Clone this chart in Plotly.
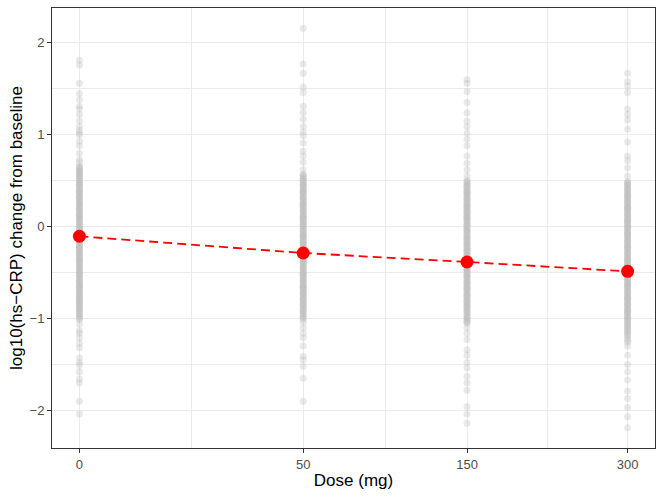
import numpy as np
import plotly.graph_objects as go

doses = [0, 50, 150, 300]
dose_labels = ["0", "50", "150", "300"]

# individual log10(hs-CRP) changes (per dose)
y_dose0 = [1.81, 1.76, 1.56, 1.45, 1.38, 1.31, 1.28, 1.22, 1.15, 1.09, 1.05, 1.02, 1.00, 0.93, 0.88, 0.80, 0.73, 0.70,
           0.66, 0.64, 0.61, 0.60, 0.58, 0.55, 0.54, 0.52, 0.49, 0.48, 0.46, 0.44, 0.41, 0.40, 0.38, 0.36, 0.33, 0.32,
           0.30, 0.27, 0.26, 0.24, 0.22, 0.19, 0.18, 0.16, 0.13, 0.12, 0.10, 0.08, 0.05, 0.04, 0.02, -0.01, -0.02,
           -0.04, -0.07, -0.08, -0.10, -0.12, -0.15, -0.16, -0.18, -0.21, -0.22, -0.24, -0.26, -0.29, -0.30, -0.32,
           -0.35, -0.36, -0.38, -0.40, -0.43, -0.44, -0.46, -0.49, -0.50, -0.52, -0.54, -0.57, -0.58, -0.60, -0.63,
           -0.64, -0.66, -0.68, -0.71, -0.72, -0.74, -0.77, -0.78, -0.80, -0.83, -0.84, -0.86, -0.89, -0.91, -0.93,
           -0.96, -0.98, -1.01, -1.06, -1.13, -1.16, -1.21, -1.27, -1.32, -1.43, -1.48, -1.51, -1.58, -1.66, -1.70,
           -1.90, -2.04,
           0.65, 0.62, 0.59, 0.565, 0.535, 0.50, 0.47, 0.45, 0.42, 0.39, 0.37, 0.34, 0.31, 0.285, 0.25, 0.23, 0.20,
           0.17, 0.14, 0.11, 0.09, 0.06, 0.03, 0.00, -0.03, -0.06, -0.09, -0.11, -0.14, -0.17, -0.20, -0.23, -0.25,
           -0.28, -0.31, -0.34, -0.37, -0.39, -0.42, -0.45, -0.48, -0.51, -0.53, -0.56, -0.59, -0.62, -0.65, -0.67,
           -0.70, -0.73, -0.76, -0.79, -0.82, -0.85, -0.88, -0.90, -0.94, -0.97, -1.00]
y_dose50 = [2.16, 1.77, 1.67, 1.52, 1.46, 1.31, 1.24, 1.17, 1.09, 1.03, 0.99, 0.91, 0.82, 0.77, 0.70, 0.62,
            0.57, 0.55, 0.52, 0.51, 0.49, 0.46, 0.45, 0.43, 0.40, 0.39, 0.37, 0.35, 0.32, 0.31, 0.29, 0.26, 0.25,
            0.23, 0.21, 0.18, 0.17, 0.15, 0.12, 0.11, 0.09, 0.07, 0.04, 0.03, 0.01, -0.02, -0.03, -0.05, -0.08,
            -0.09, -0.11, -0.13, -0.16, -0.17, -0.19, -0.22, -0.23, -0.25, -0.27, -0.30, -0.31, -0.33, -0.36, -0.37,
            -0.39, -0.41, -0.44, -0.45, -0.47, -0.50, -0.51, -0.53, -0.55, -0.58, -0.59, -0.61, -0.64, -0.65, -0.67,
            -0.69, -0.72, -0.73, -0.75, -0.78, -0.79, -0.81, -0.84, -0.85, -0.87, -0.90, -0.92, -0.94, -0.97, -0.99,
            -1.04, -1.10, -1.16, -1.21, -1.30, -1.41, -1.45, -1.52, -1.65, -1.90,
            0.56, 0.53, 0.50, 0.47, 0.44, 0.41, 0.38, 0.36, 0.33, 0.30, 0.27, 0.24, 0.22, 0.19, 0.16, 0.13, 0.10,
            0.08, 0.05, 0.02, 0.00, -0.04, -0.07, -0.10, -0.12, -0.15, -0.18, -0.21, -0.24, -0.26, -0.29, -0.32,
            -0.35, -0.38, -0.40, -0.43, -0.46, -0.49, -0.52, -0.54, -0.57, -0.60, -0.63, -0.66, -0.68, -0.71, -0.74,
            -0.77, -0.80, -0.83, -0.86, -0.89, -0.91, -0.95, -0.98, -1.01]
y_dose150 = [1.60, 1.56, 1.47, 1.35, 1.24, 1.15, 1.09, 1.02, 0.95, 0.88, 0.77, 0.69, 0.62, 0.55,
             0.50, 0.48, 0.45, 0.44, 0.42, 0.39, 0.38, 0.36, 0.34, 0.31, 0.30, 0.28, 0.25, 0.24, 0.22, 0.20, 0.17,
             0.16, 0.14, 0.11, 0.10, 0.08, 0.06, 0.03, 0.02, 0.00, -0.03, -0.04, -0.06, -0.09, -0.10, -0.12, -0.14,
             -0.17, -0.18, -0.20, -0.23, -0.24, -0.26, -0.28, -0.31, -0.32, -0.34, -0.37, -0.38, -0.40, -0.42, -0.45,
             -0.46, -0.48, -0.51, -0.52, -0.54, -0.56, -0.59, -0.60, -0.62, -0.65, -0.66, -0.68, -0.70, -0.73, -0.74,
             -0.76, -0.79, -0.80, -0.82, -0.85, -0.86, -0.88, -0.91, -0.93, -0.95, -0.98, -1.00, -1.03, -1.05,
             -1.10, -1.16, -1.23, -1.34, -1.40, -1.48, -1.54, -1.63, -1.70, -1.78, -1.96, -2.04, -2.14,
             0.49, 0.46, 0.43, 0.40, 0.37, 0.35, 0.32, 0.29, 0.26, 0.23, 0.21, 0.18, 0.15, 0.12, 0.09, 0.07, 0.04,
             0.01, -0.02, -0.05, -0.07, -0.11, -0.13, -0.16, -0.19, -0.21, -0.25, -0.27, -0.30, -0.33, -0.35, -0.39,
             -0.41, -0.44, -0.47, -0.49, -0.53, -0.55, -0.58, -0.61, -0.63, -0.67, -0.69, -0.72, -0.75, -0.77, -0.81,
             -0.83, -0.87, -0.89, -0.92, -0.96, -0.99, -1.02, -1.04]
y_dose300 = [1.67, 1.58, 1.53, 1.46, 1.28, 1.22, 1.16, 1.06, 0.92, 0.77, 0.72, 0.64, 0.55,
             0.49, 0.47, 0.45, 0.42, 0.41, 0.39, 0.36, 0.35, 0.33, 0.31, 0.28, 0.27, 0.25, 0.22, 0.21, 0.19, 0.17,
             0.14, 0.13, 0.11, 0.08, 0.07, 0.05, 0.03, 0.00, -0.01, -0.03, -0.06, -0.07, -0.09, -0.11, -0.14, -0.15,
             -0.17, -0.20, -0.21, -0.23, -0.25, -0.28, -0.29, -0.31, -0.34, -0.35, -0.37, -0.39, -0.42, -0.43, -0.45,
             -0.48, -0.49, -0.51, -0.53, -0.56, -0.57, -0.59, -0.62, -0.63, -0.65, -0.67, -0.70, -0.71, -0.73, -0.76,
             -0.77, -0.79, -0.81, -0.84, -0.85, -0.87, -0.90, -0.91, -0.93, -0.95, -0.98, -0.99, -1.01, -1.04, -1.06,
             -1.08, -1.11, -1.13, -1.16, -1.19, -1.22, -1.26, -1.30, -1.40, -1.50, -1.58, -1.67, -1.79, -1.87, -1.97,
             -2.07, -2.19,
             0.48, 0.46, 0.43, 0.40, 0.37, 0.34, 0.32, 0.29, 0.26, 0.23, 0.20, 0.18, 0.15, 0.12, 0.09, 0.06, 0.04,
             0.01, -0.02, -0.05, -0.08, -0.10, -0.13, -0.16, -0.19, -0.22, -0.24, -0.27, -0.30, -0.33, -0.36, -0.38,
             -0.41, -0.44, -0.47, -0.50, -0.52, -0.55, -0.58, -0.61, -0.64, -0.66, -0.69, -0.72, -0.75, -0.78, -0.80,
             -0.83, -0.86, -0.89, -0.92, -0.94, -0.97, -1.00, -1.03, -1.07, -1.10, -1.14, -1.18, -1.24]
individual = [y_dose0, y_dose50, y_dose150, y_dose300]

mean_change = [-0.105, -0.287, -0.385, -0.487]

# sqrt-transformed dose axis (as in the original)
xpos = np.sqrt(np.array(doses, dtype=float))
minor_x = (xpos[:-1] + xpos[1:]) / 2

fig = go.Figure()
px_all, py_all = [], []
for xp, ys in zip(xpos, individual):
    px_all += [xp] * len(ys)
    py_all += ys
fig.add_trace(go.Scatter(
    x=px_all, y=py_all, mode="markers",
    marker=dict(size=7, color="#BEBEBE", opacity=0.34, line=dict(width=0)),
    showlegend=False, hoverinfo="skip"))

fig.add_trace(go.Scatter(
    x=xpos, y=mean_change, mode="lines+markers",
    line=dict(color="#FF0000", width=1.8, dash="9px,5px"),
    marker=dict(size=13, color="#FF0000"),
    showlegend=False))

span = xpos[-1] - xpos[0]
fig.update_layout(
    width=664, height=498,
    margin=dict(l=52, r=9, t=8, b=50, autoexpand=False),
    paper_bgcolor="white", plot_bgcolor="white",
    font=dict(family="Liberation Sans, Arial, sans-serif", color="#000000"),
    xaxis=dict(
        range=[xpos[0] - 0.05 * span, xpos[-1] + 0.05 * span],
        tickmode="array", tickvals=xpos, ticktext=dose_labels,
        showgrid=True, gridcolor="#EBEBEB", gridwidth=1.1,
        minor=dict(tickmode="array", tickvals=minor_x, showgrid=True,
                   gridcolor="#EBEBEB", gridwidth=0.6, ticklen=0),
        zeroline=False, showline=True, linecolor="#333333", linewidth=1, mirror=True,
        ticks="outside", ticklen=4, tickcolor="#333333", tickwidth=1,
        tickfont=dict(size=13, color="#4D4D4D"),
        title=dict(text="Dose (mg)", font=dict(size=17), standoff=3),
        automargin=False,
    ),
    yaxis=dict(
        range=[-2.41, 2.38],
        tickmode="array", tickvals=[-2, -1, 0, 1, 2],
        showgrid=True, gridcolor="#EBEBEB", gridwidth=1.1,
        minor=dict(tickmode="array", tickvals=[-1.5, -0.5, 0.5, 1.5], showgrid=True,
                   gridcolor="#EBEBEB", gridwidth=0.6, ticklen=0),
        zeroline=False, showline=True, linecolor="#333333", linewidth=1, mirror=True,
        ticks="outside", ticklen=4, tickcolor="#333333", tickwidth=1,
        tickfont=dict(size=13, color="#4D4D4D"),
        title=dict(text="log10(hs−CRP) change from baseline", font=dict(size=17), standoff=2),
        automargin=False,
    ),
)

fig.write_html("out.html", config={"displayModeBar": False},
               post_script="document.body.style.margin='0px';")
